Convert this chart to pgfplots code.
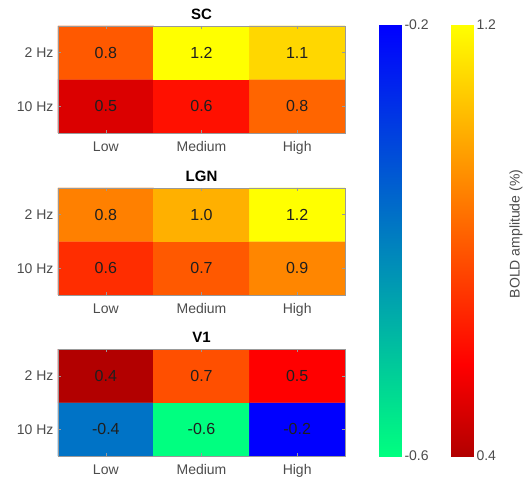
\documentclass[border=0pt]{standalone}
\usepackage{pgfplots}
\pgfplotsset{compat=1.18}
\usepackage{fontspec}
\setmainfont{Liberation Sans}
\definecolor{axgray}{gray}{0.6}
\definecolor{lblgray}{gray}{0.3}
\definecolor{numcol}{gray}{0.12}
\pgfplotsset{
  colormap={combo}{rgb(0pt)=(0,1,0.5) rgb(40pt)=(0,0,1) rgb(100pt)=(0.7,0,0) rgb(117pt)=(1,0,0) rgb(180pt)=(1,1,0)},
  colormap={winterr}{rgb=(0,1,0.5) rgb=(0,0,1)},
  colormap={hotr}{rgb(0pt)=(0.7,0,0) rgb(17pt)=(1,0,0) rgb(80pt)=(1,1,0)},
  heat/.style={
    scale only axis, width=287pt, height=107pt, anchor=south west,
    xmin=-0.5, xmax=2.5, ymin=-0.5, ymax=1.5,
    xtick={0,1,2}, xticklabels={Low,Medium,High},
    ytick={0,1}, yticklabels={10 Hz,2 Hz},
    point meta min=-0.6, point meta max=1.2,
    colormap name=combo,
    axis line style={axgray}, tick style={axgray, line width=0.5pt},
    major tick length=3pt,
    tick label style={font=\fontsize{14}{16}\selectfont, text=lblgray},
    xticklabel style={yshift=-5pt},
    yticklabel style={xshift=-1pt},
    title style={font=\bfseries\fontsize{15}{17}\selectfont, at={(0.5,1)}, anchor=south, yshift=-3.5pt, text=black},
    axis on top,
  },
  lbl/.style={draw=none, mark=none, nodes near coords, point meta=explicit symbolic,
    nodes near coords align={center},
    every node near coord/.append style={font=\fontsize{16}{18}\selectfont, text=numcol, anchor=center}},
  cbar/.style={
    scale only axis, width=22pt, height=431pt, anchor=south west,
    xmin=0, xmax=1, xtick=\empty, yticklabel pos=right,
    axis line style={axgray}, tick style={draw=none},
    tick label style={font=\fontsize{14}{16}\selectfont, text=lblgray},
    yticklabel style={xshift=0pt},
  },
}
\begin{document}
\begin{tikzpicture}
\useasboundingbox (0,0) rectangle (524pt,479pt);
% SC
\begin{axis}[heat, at={(58pt,346pt)}, title={SC}]
\addplot[matrix plot*, mesh/cols=3, point meta=explicit] table[meta=c] {
x y c
0 0 0.49
1 0 0.61
2 0 0.82
0 1 0.79
1 1 1.20
2 1 1.10
};
\addplot[lbl] table[meta=t] {
x y t
0 0 0.5
1 0 0.6
2 0 0.8
0 1 0.8
1 1 1.2
2 1 1.1
};
\end{axis}
% LGN
\begin{axis}[heat, at={(58pt,184pt)}, title={LGN}]
\addplot[matrix plot*, mesh/cols=3, point meta=explicit] table[meta=c] {
x y c
0 0 0.68
1 0 0.79
2 0 0.90
0 1 0.885
1 1 1.005
2 1 1.20
};
\addplot[lbl] table[meta=t] {
x y t
0 0 0.6
1 0 0.7
2 0 0.9
0 1 0.8
1 1 1.0
2 1 1.2
};
\end{axis}
% V1
\begin{axis}[heat, at={(58pt,23pt)}, title={V1}]
\addplot[matrix plot*, mesh/cols=3, point meta=explicit] table[meta=c] {
x y c
0 0 -0.38
1 0 -0.60
2 0 -0.20
0 1 0.40
1 1 0.765
2 1 0.57
};
\addplot[lbl] table[meta=t] {
x y t
0 0 -0.4
1 0 -0.6
2 0 -0.2
0 1 0.4
1 1 0.7
2 1 0.5
};
\end{axis}
% colorbar negative
\begin{axis}[cbar, at={(379pt,23pt)}, ymin=-0.6, ymax=-0.2,
  ytick={-0.6,-0.2}, yticklabels={-0.6,-0.2},
  colormap name=winterr, point meta min=-0.6, point meta max=-0.2]
\addplot[surf, shader=interp, mesh/cols=2, point meta=y] coordinates {(0,-0.6) (1,-0.6)

(0,-0.2) (1,-0.2)};
\end{axis}
% colorbar positive
\begin{axis}[cbar, at={(451pt,23pt)}, ymin=0.4, ymax=1.2,
  ytick={0.4,1.2}, yticklabels={0.4,1.2},
  colormap name=hotr, point meta min=0.4, point meta max=1.2,
  ylabel={BOLD amplitude (\%)},
  ylabel style={at={(axis description cs:2.95,0.515)}, anchor=center, font=\fontsize{14}{16}\selectfont, text=lblgray}]
\addplot[surf, shader=interp, mesh/cols=2, point meta=y] coordinates {(0,0.4) (1,0.4)

(0,1.2) (1,1.2)};
\end{axis}
\end{tikzpicture}
\end{document}
